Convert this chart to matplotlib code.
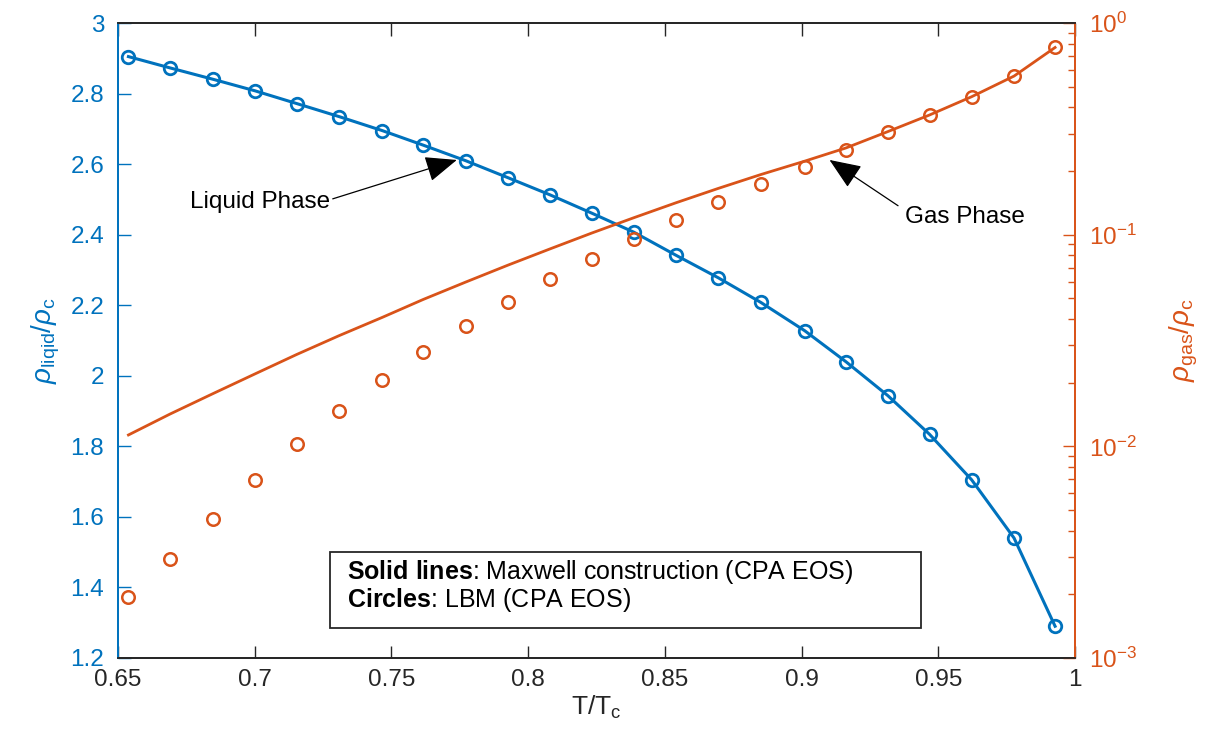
import numpy as np
import matplotlib
matplotlib.use('Agg')
import matplotlib.pyplot as plt
from matplotlib.patches import Rectangle

plt.rcParams['font.family'] = ['Liberation Sans', 'DejaVu Sans']
plt.rcParams['mathtext.fontset'] = 'custom'
plt.rcParams['mathtext.rm'] = 'Liberation Sans'
plt.rcParams['mathtext.it'] = 'Liberation Sans:italic'
plt.rcParams['mathtext.bf'] = 'Liberation Sans:bold'

BLUE = '#0072BD'
ORANGE = '#D95319'
AXC = '#262626'

# reduced temperature T/Tc
T = [0.6538, 0.6690, 0.6846, 0.7001, 0.7153, 0.7308, 0.7467, 0.7616, 0.7771,
     0.7925, 0.8080, 0.8233, 0.8387, 0.8540, 0.8695, 0.8851, 0.9011, 0.9162,
     0.9315, 0.9468, 0.9622, 0.9777, 0.9927]

# liquid density, Maxwell construction (line) and LBM (circles)
rho_liq_maxwell = [2.905, 2.873, 2.841, 2.808, 2.772, 2.735, 2.695, 2.654, 2.610,
                   2.562, 2.513, 2.461, 2.407, 2.342, 2.278, 2.208, 2.128, 2.040,
                   1.944, 1.834, 1.705, 1.540, 1.290]
rho_liq_lbm = [2.905, 2.873, 2.841, 2.808, 2.772, 2.735, 2.695, 2.654, 2.610,
               2.562, 2.513, 2.461, 2.407, 2.342, 2.278, 2.208, 2.128, 2.040,
               1.944, 1.834, 1.705, 1.540, 1.290]

# gas density (log scale)
rho_gas_maxwell = [0.01132, 0.01421, 0.01772, 0.02200, 0.02716, 0.03333, 0.04072,
                   0.04944, 0.05971, 0.07174, 0.08572, 0.1019, 0.1204, 0.1415,
                   0.1655, 0.1925, 0.2226, 0.257, 0.307, 0.368, 0.449, 0.562, 0.767]
rho_gas_lbm = [0.00194, 0.00294, 0.00453, 0.00694, 0.01023, 0.0147, 0.0206,
               0.0280, 0.0370, 0.0480, 0.0616, 0.0771, 0.0951, 0.1173, 0.1432,
               0.1730, 0.210, 0.251, 0.305, 0.368, 0.449, 0.562, 0.767]

fig = plt.figure(figsize=(12.12, 7.45), dpi=100)
ax = fig.add_axes([0.0974, 0.1168, 0.7896, 0.8522])
ax2 = ax.twinx()

ax.plot(T, rho_liq_maxwell, '-', color=BLUE, lw=2.2)
ax.plot(T, rho_liq_lbm, 'o', color=BLUE, mfc='none', mec=BLUE, ms=9, mew=2.0)

ax2.plot(T, rho_gas_maxwell, '-', color=ORANGE, lw=2.0)
ax2.plot(T, rho_gas_lbm, 'o', color=ORANGE, mfc='none', mec=ORANGE, ms=9, mew=1.8)
ax2.set_yscale('log')

ax.set_xlim(0.65, 1.0)
ax.set_ylim(1.2, 3.0)
ax2.set_ylim(1e-3, 1e0)

ax.set_xticks(np.arange(0.65, 1.001, 0.05))
ax.set_xticklabels(['0.65', '0.7', '0.75', '0.8', '0.85', '0.9', '0.95', '1'])
ax.set_yticks(np.arange(1.2, 3.001, 0.2))
ax.set_yticklabels(['1.2', '1.4', '1.6', '1.8', '2', '2.2', '2.4', '2.6', '2.8', '3'])

ax.tick_params(axis='x', direction='in', length=9, width=1, top=True,
               labelsize=17.5, colors=AXC, pad=8)
ax.tick_params(axis='y', direction='in', length=9, width=1, labelsize=17.5,
               colors=BLUE, labelcolor=BLUE, pad=10)
ax2.tick_params(axis='y', which='major', direction='in', length=9, width=1,
                labelsize=17.5, colors=ORANGE, pad=10)
ax2.tick_params(axis='y', which='minor', direction='in', length=5, width=1,
                colors=ORANGE)

for a in (ax, ax2):
    a.spines['top'].set_color(AXC)
    a.spines['bottom'].set_color(AXC)
    a.spines['left'].set_color(BLUE)
    a.spines['right'].set_color(ORANGE)
    for s in a.spines.values():
        s.set_linewidth(1.3)

ax.set_xlabel(r'T/T$_{\rm c}$', fontsize=19, color=AXC, labelpad=2)
ax.set_ylabel(r'$\rho_{\rm liqid}/\rho_{\rm c}$', fontsize=20, color=BLUE, labelpad=6)
ax2.set_ylabel(r'$\rho_{\rm gas}/\rho_{\rm c}$', fontsize=20, color=ORANGE,
               rotation=90, labelpad=22)

arrow = dict(arrowstyle='-|>,head_length=1.1,head_width=0.45', color='black',
             lw=0.9, mutation_scale=18, shrinkA=0, shrinkB=0)
ax.annotate('Liquid Phase', xy=(0.7739, 2.612), xytext=(0.7275, 2.493),
            ha='right', va='center', fontsize=17.5, color='black',
            arrowprops=dict(arrow, relpos=(1.0, 0.6)))
ax.annotate('Gas Phase', xy=(0.9102, 2.612), xytext=(0.9379, 2.451),
            ha='left', va='center', fontsize=17.5, color='black',
            arrowprops=dict(arrow, relpos=(-0.06, 1.0)))

ax2.add_patch(Rectangle((0.2215, 0.0472), 0.6175, 0.1197, transform=ax.transAxes,
                        facecolor='white', edgecolor=AXC, lw=1.3, zorder=5))
ax2.text(0.2393, 0.1359, r'$\mathbf{Solid\ lines}$: Maxwell construction (CPA EOS)',
         transform=ax.transAxes, fontsize=18, va='center', ha='left', zorder=6)
ax2.text(0.2393, 0.0913, r'$\mathbf{Circles}$: LBM (CPA EOS)',
         transform=ax.transAxes, fontsize=18, va='center', ha='left', zorder=6)

fig.savefig('out.png', dpi=100)
